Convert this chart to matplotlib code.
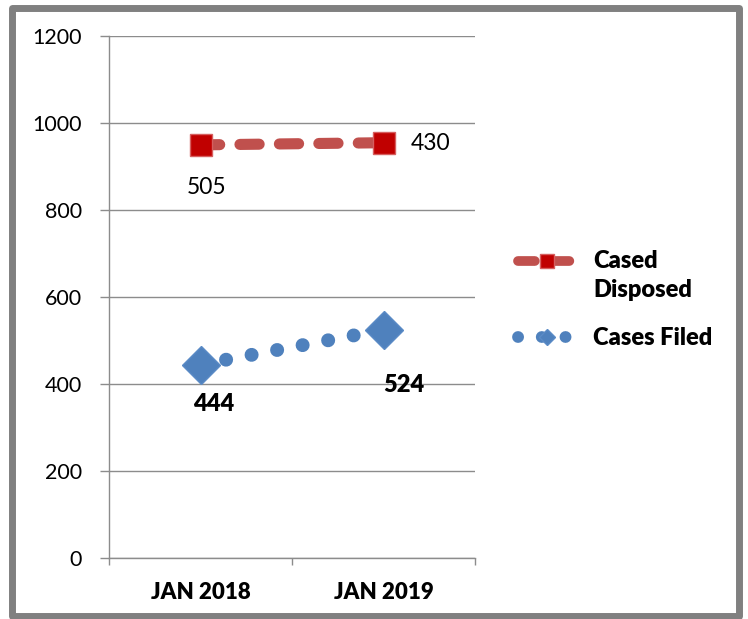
import numpy as np
import matplotlib
matplotlib.use("Agg")
import matplotlib.pyplot as plt
from matplotlib.lines import Line2D
from matplotlib.patches import Rectangle

# ---- data ----
categories = ["JAN 2018", "JAN 2019"]
cases_filed = [444, 524]
cases_disposed = [505, 430]
series_names = ["Cased\nDisposed", "Cases Filed"]
y_ticks = [0, 200, 400, 600, 800, 1000, 1200]

plt.rcParams["font.family"] = ["Lato", "DejaVu Sans"]
BOLD = 800

W, H = 748, 619
fig = plt.figure(figsize=(W / 100, H / 100), dpi=100)

# outer border
fig.add_artist(Rectangle((11.5 / W, 3 / H), (739 - 11.5) / W, (616 - 7.5) / H,
                         transform=fig.transFigure, fill=False,
                         edgecolor="#808080", linewidth=5, joinstyle="round"))

ax = fig.add_axes([109 / W, 1 - 557.7 / H, 366 / W, 522 / H])

x = np.arange(len(categories))
stacked_disposed = np.add(cases_filed, cases_disposed)

red_line = "#C0504D"
red_mark = "#C00000"
blue = "#4F81BD"

ax.plot(x, stacked_disposed, color=red_line, linewidth=8,
        dashes=(1.73, 1.82), dash_capstyle="round",
        marker="s", markersize=16.5, markerfacecolor=red_mark,
        markeredgecolor="#D65F5F", markeredgewidth=1, zorder=3)
ax.plot(x, cases_filed, color=blue, linewidth=10,
        dashes=(0.01, 1.86), dash_capstyle="round",
        marker="D", markersize=19, markerfacecolor=blue,
        markeredgecolor="#5B8BC6", markeredgewidth=1, zorder=3)

# data labels
disp_offsets = [((6.5, -42.5), "center"), ((27.5, -1), "left")]
for i, v in enumerate(cases_disposed):
    off, ha = disp_offsets[i]
    ax.annotate(str(v), xy=(x[i], stacked_disposed[i]), xytext=off,
                textcoords="offset pixels", ha=ha, va="center",
                fontsize=16.5, color="black")
filed_offsets = [(13.5, -39), (20.5, -55)]
for i, v in enumerate(cases_filed):
    ax.annotate(str(v), xy=(x[i], cases_filed[i]), xytext=filed_offsets[i],
                textcoords="offset pixels", ha="center", va="center",
                fontsize=17, fontweight=BOLD, color="black")

# axes styling
ax.set_xlim(-0.5, len(categories) - 0.5)
ax.set_ylim(0, 1200)
ax.set_yticks(y_ticks)
ax.set_yticklabels([str(t) for t in y_ticks])
ax.set_xticks(x)
ax.set_xticklabels(categories, fontweight=BOLD, fontsize=16)
ax.set_xticks(np.arange(len(categories) + 1) - 0.5, minor=True)
ax.tick_params(axis="x", which="major", length=0, pad=17.5)
ax.tick_params(axis="x", which="minor", length=5, width=1, color="#8c8c8c",
               direction="out")
ax.tick_params(axis="y", which="major", length=6.5, width=1, color="#8c8c8c",
               direction="out", labelsize=15.5, pad=13)
ax.yaxis.grid(True, color="#8c8c8c", linewidth=1)
ax.set_axisbelow(True)
for s in ["top", "right"]:
    ax.spines[s].set_visible(False)
for s in ["left", "bottom"]:
    ax.spines[s].set_color("#8c8c8c")
    ax.spines[s].set_linewidth(1)

# legend
h1 = Line2D([], [], color=red_line, linewidth=7, dashes=(1.73, 1.82),
            dash_capstyle="round", marker="s", markersize=10.5,
            markerfacecolor=red_mark, markeredgecolor="#D65F5F")
h2 = Line2D([], [], color=blue, linewidth=8.5, dashes=(0.01, 2.0),
            dash_capstyle="round", marker="D", markersize=8,
            markerfacecolor=blue, markeredgecolor="#5B8BC6")
leg = ax.legend([h1, h2], series_names, loc="upper left",
                bbox_to_anchor=(518 / W, 1 - 250 / H),
                bbox_transform=fig.transFigure, frameon=False,
                prop={"weight": BOLD, "size": 17}, numpoints=1,
                handlelength=2.46, handletextpad=0.72, borderpad=0,
                borderaxespad=0, labelspacing=1.12)
for t in leg.get_texts():
    t.set_linespacing(1.38)
# align first handle with the first text line
hl = leg.legend_handles[0]
hl.set_ydata(np.asarray(hl.get_ydata()) + 11.2)

fig.savefig("out.png", dpi=100)
